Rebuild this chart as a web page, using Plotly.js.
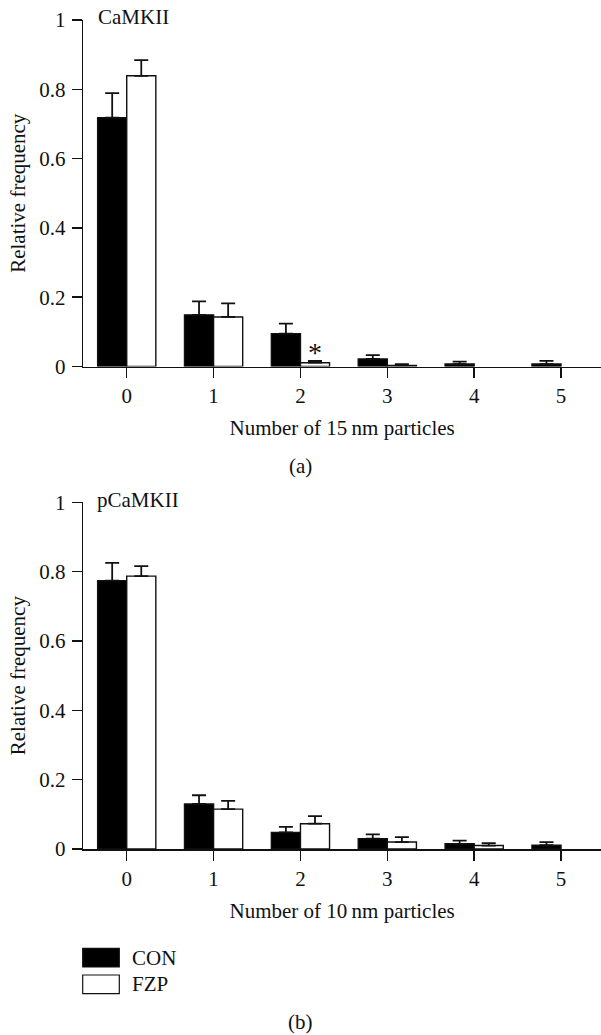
<!DOCTYPE html>
<html>
<head>
<meta charset="utf-8">
<script src="https://cdn.plot.ly/plotly-3.0.1.min.js"></script>
<style>html,body{margin:0;padding:0;background:#fff;}</style>
</head>
<body>
<div id="chart" style="width:601px;height:1035px;"></div>
<script>
// ---- data ----
const categories = [0, 1, 2, 3, 4, 5];
const tickLabelsX = ['0', '1', '2', '3', '4', '5'];
const tickValsY = [0, 0.2, 0.4, 0.6, 0.8, 1];
const tickLabelsY = ['0', '0.2', '0.4', '0.6', '0.8', '1'];
const seriesNames = ['CON', 'FZP'];

// (a) CaMKII, 15 nm particles
const conA = [0.718, 0.149, 0.095, 0.022, 0.007, 0.007];
const conAErr = [0.071, 0.039, 0.029, 0.011, 0.007, 0.009];
const fzpA = [0.839, 0.143, 0.011, 0.003, null, null];
const fzpAErr = [0.045, 0.039, 0.005, 0.004, null, null];

// (b) pCaMKII, 10 nm particles
const conB = [0.774, 0.130, 0.048, 0.030, 0.015, 0.011];
const conBErr = [0.051, 0.025, 0.016, 0.012, 0.009, 0.009];
const fzpB = [0.787, 0.115, 0.073, 0.020, 0.010, null];
const fzpBErr = [0.029, 0.024, 0.022, 0.014, 0.007, null];

const zeros = categories.map(() => 0);

// ---- style ----
const FONT = '"Liberation Serif", "DejaVu Serif", serif';
const INK = '#111111';
const FS = 21;
const W = 601, H = 1035;
const px = x => x / W;
const py = y => 1 - y / H;

function barTrace(name, y, err, fill, xa, ya) {
  return {
    type: 'bar', name: name, x: categories, y: y,
    xaxis: xa, yaxis: ya,
    marker: {color: fill, line: {color: INK, width: 1.4}},
    error_y: {type: 'data', symmetric: false, array: err, arrayminus: zeros,
              color: INK, thickness: 1.8, width: 7},
    hoverinfo: 'x+y'
  };
}

const data = [
  barTrace(seriesNames[0], conA, conAErr, '#000000', 'x', 'y'),
  barTrace(seriesNames[1], fzpA, fzpAErr, '#ffffff', 'x', 'y'),
  barTrace(seriesNames[0], conB, conBErr, '#000000', 'x2', 'y2'),
  barTrace(seriesNames[1], fzpB, fzpBErr, '#ffffff', 'x2', 'y2')
];

function xAxis(anchor, title) {
  return {
    anchor: anchor, domain: [px(83.3), 1], range: [-0.5, 5.46],
    tickmode: 'array', tickvals: categories, ticktext: tickLabelsX,
    ticks: 'outside', ticklen: 10, tickwidth: 1.5, tickcolor: INK,
    showline: true, linewidth: 1.5, linecolor: INK,
    showgrid: false, zeroline: false, fixedrange: true,
    ticklabelstandoff: 0,
    tickfont: {family: FONT, size: FS, color: INK},
    title: {text: title, standoff: 13, font: {family: FONT, size: FS, color: INK}}
  };
}
function yAxis(anchor, dom) {
  return {
    anchor: anchor, domain: dom, range: [0, 1],
    tickmode: 'array', tickvals: tickValsY, ticktext: tickLabelsY,
    ticks: 'outside', ticklen: 10, tickwidth: 1.5, tickcolor: INK,
    showline: true, linewidth: 1.5, linecolor: INK,
    showgrid: false, zeroline: false, fixedrange: true,
    ticklabelstandoff: 2,
    tickfont: {family: FONT, size: FS, color: INK},
    title: {text: 'Relative frequency', standoff: 8, font: {family: FONT, size: FS, color: INK}}
  };
}

const txt = (text, x, y, xanchor, size) => ({
  text: text, xref: 'paper', yref: 'paper', x: px(x), y: py(y),
  xanchor: xanchor, yanchor: 'middle', showarrow: false,
  font: {family: FONT, size: size || FS, color: INK}
});

const layout = {
  width: W, height: H,
  margin: {l: 0, r: 0, t: 0, b: 0},
  paper_bgcolor: '#ffffff', plot_bgcolor: '#ffffff',
  showlegend: false,
  barmode: 'group', bargap: 0.33, bargroupgap: 0,
  font: {family: FONT, size: FS, color: INK},
  xaxis: xAxis('y', 'Number of 15\u2009nm particles'),
  yaxis: yAxis('x', [py(366.5), py(20)]),
  xaxis2: xAxis('y2', 'Number of 10\u2009nm particles'),
  yaxis2: yAxis('x2', [py(849), py(502.3)]),
  annotations: [
    txt('CaMKII', 96, 17, 'left'),
    txt('pCaMKII', 95, 500, 'left'),
    txt('(a)', 300.5, 466, 'center'),
    txt('(b)', 300.5, 1022, 'center'),
    txt(seriesNames[0], 130, 957.7, 'left'),
    txt(seriesNames[1], 130, 984.3, 'left'),
    {text: '*', xref: 'x', yref: 'y', x: 2.1675, y: 0.04, xanchor: 'center', yanchor: 'middle',
     showarrow: false, font: {family: FONT, size: 28, color: INK}}
  ],
  shapes: [
    {type: 'rect', xref: 'paper', yref: 'paper', x0: px(82.7), x1: px(119.3), y0: py(967), y1: py(948.3),
     fillcolor: '#000000', line: {color: INK, width: 1.2}},
    {type: 'rect', xref: 'paper', yref: 'paper', x0: px(82.7), x1: px(119.3), y0: py(993.7), y1: py(975),
     fillcolor: '#ffffff', line: {color: INK, width: 1.2}}
  ]
};

Plotly.newPlot('chart', data, layout, {displayModeBar: false, staticPlot: true});
</script>
</body>
</html>
